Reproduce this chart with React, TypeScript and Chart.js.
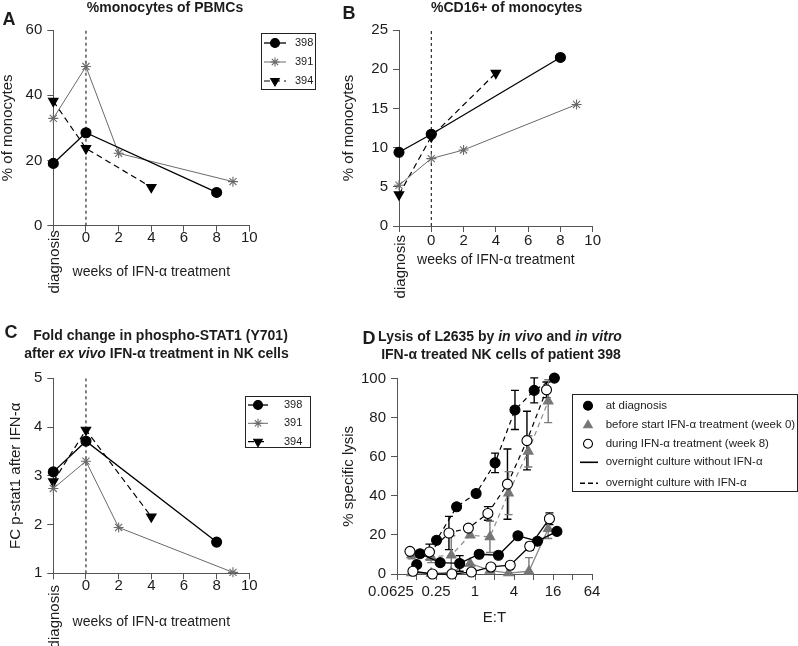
import React, { useEffect, useRef } from 'react';
import { Chart, registerables } from 'chart.js';

Chart.register(...registerables);

const FONT = '"Liberation Sans", Arial, Helvetica, sans-serif';
const INK = '#1c1c1c';
const AXIS = '#555555';

// ---------- shared: weeks of IFN-α treatment ----------
const weekTicks = [-2, 0, 2, 4, 6, 8, 10];
const diagnosisWeek = -2;
const diagnosisLabel = 'diagnosis';
const weeksTitle = 'weeks of IFN-α treatment';
const patients = ['398', '391', '394'];
const weeks398 = [-2, 0, 8];
const weeks391 = [-2, 0, 2, 9];
const weeks394 = [-2, 0, 4];

// ---------- panel A ----------
const titleA = '%monocytes of PBMCs';
const yTitleA = '% of monocytes';
const yTicksA = [0, 20, 40, 60];
const monoPbmc398 = [19.1, 28.5, 10.2];
const monoPbmc391 = [32.9, 48.8, 22.2, 13.5];
const monoPbmc394 = [38.2, 23.7, 11.8];

// ---------- panel B ----------
const titleB = '%CD16+ of monocytes';
const yTitleB = '% of monocytes';
const yTicksB = [0, 5, 10, 15, 20, 25];
const cd16Mono398 = [9.4, 11.7, 21.5];
const cd16Mono391 = [5.2, 8.6, 9.7, 15.5];
const cd16Mono394 = [4.0, 11.4, 19.5];

// ---------- panel C ----------
const titleC1 = 'Fold change in phospho-STAT1 (Y701)';
const titleC2 = ['after ', 'ex vivo', ' IFN-α treatment in NK cells'];
const yTitleC = 'FC p-stat1 after IFN-α';
const yTicksC = [1, 2, 3, 4, 5];
const pstat398 = [3.08, 3.71, 1.64];
const pstat391 = [2.74, 3.3, 1.94, 1.02];
const pstat394 = [2.88, 3.94, 2.16];

// ---------- panel D ----------
const titleD1 = ['Lysis of L2635 by ', 'in vivo', ' and ', 'in vitro'];
const titleD2 = 'IFN-α treated NK cells of patient 398';
const yTitleD = '% specific lysis';
const xTitleD = 'E:T';
const yTicksD = [0, 20, 40, 60, 80, 100];
const etTicks = [0.0625, 0.125, 0.25, 0.5, 1, 2, 4, 8, 16, 32, 64];
const etTickLabels = ['0.0625', '', '0.25', '', '1', '', '4', '', '16', '', '64'];
const legendD = [
  'at diagnosis',
  'before start IFN-α treatment (week 0)',
  'during IFN-α treatment (week 8)',
  'overnight culture without IFN-α',
  'overnight culture with IFN-α',
];

const etDiagNoIfn = [0.142, 0.29, 0.58, 1.16, 2.3, 4.6, 9.2, 18.4];
const lysisDiagNoIfn = [10.4, 5.8, 5.4, 10.1, 9.6, 19.6, 16.8, 21.8];
const errDiagNoIfn = [0, 0, 4, 0, 0, 0, 0, 0];

const etDiagIfn = [0.126, 0.255, 0.52, 1.04, 2.04, 4.14, 8.2, 16.8];
const lysisDiagIfn = [4.8, 17.3, 34.4, 41.2, 56.9, 84, 94, 100.3];
const errDiagIfn = [0, 0, 0, 0, 5, 10, 6.4, 0];

const etWk0NoIfn = [0.105, 0.21, 0.43, 0.84, 1.7, 3.3, 6.8, 13.5];
const lysisWk0NoIfn = [0.5, 0.3, 0.8, 5.4, 1.8, 0.5, 1.4, 23.2];
const errWk0NoIfn = [0, 0, 0, 0, 0, 0, 7, 5];

const etWk0Ifn = [0.105, 0.21, 0.43, 0.84, 1.7, 3.3, 6.65, 13.5];
const lysisWk0Ifn = [9.8, 8.8, 9.6, 19.9, 19.0, 41.4, 62.8, 88.5];
const errWk0Ifn = [2, 3, 10, 0, 8, 11, 8, 11];

const etWk8NoIfn = [0.11, 0.22, 0.44, 0.88, 1.76, 3.5, 7.0, 14.1];
const lysisWk8NoIfn = [1.4, 0, 0, 1, 3.6, 4.5, 14.2, 28.3];
const errWk8NoIfn = [0, 0, 0, 0, 0, 0, 2, 3];

const etWk8Ifn = [0.099, 0.198, 0.396, 0.79, 1.58, 3.17, 6.34, 12.7];
const lysisWk8Ifn = [11.6, 11.3, 21, 23.5, 31, 46, 68.3, 94.3];
const errWk8Ifn = [0, 4, 8.5, 0, 3.5, 18, 15, 4];

// ---------- styles ----------
const patientStyle: Record<string, any> = {
  '398': { color: '#000000', fill: '#000000', point: 'circle', radius: 5, rot: 0, dash: [], width: 1.3 },
  '391': { color: '#6a6a6a', fill: '#6a6a6a', point: 'star', radius: 5, rot: 0, dash: [], width: 1 },
  '394': { color: '#000000', fill: '#000000', point: 'triangle', radius: 5.5, rot: 180, dash: [6, 4], width: 1.2 },
};

const groupStyle: Record<string, any> = {
  diag: { point: 'circle', radius: 5, fill: '#000000', stroke: '#000000', line: '#000000', err: '#000000' },
  wk0: { point: 'triangle', radius: 5.5, fill: '#767676', stroke: '#767676', line: '#8a8a8a', err: '#7a7a7a' },
  wk8: { point: 'circle', radius: 5, fill: '#ffffff', stroke: '#000000', line: '#000000', err: '#000000' },
};

type Seg = { t: string; b?: boolean; i?: boolean };
type TextItem = { x: number; y: number; segs: Seg[]; size: number; align?: string };

function drawRich(ctx: CanvasRenderingContext2D, segs: Seg[], x: number, y: number, size: number, align = 'center') {
  const fonts = segs.map((s) => `${s.i ? 'italic ' : ''}${s.b ? 'bold ' : ''}${size}px ${FONT}`);
  const widths = segs.map((s, k) => {
    ctx.font = fonts[k];
    return ctx.measureText(s.t).width;
  });
  const total = widths.reduce((a, b) => a + b, 0);
  let cx = align === 'center' ? x - total / 2 : align === 'right' ? x - total : x;
  ctx.textAlign = 'left';
  ctx.textBaseline = 'middle';
  segs.forEach((s, k) => {
    ctx.font = fonts[k];
    ctx.fillText(s.t, cx, y);
    cx += widths[k];
  });
}

function drawMarker(ctx: CanvasRenderingContext2D, style: string, x: number, y: number, r: number, fill: string, stroke: string, lw: number, rotDeg: number) {
  ctx.save();
  ctx.translate(x, y);
  ctx.rotate((rotDeg * Math.PI) / 180);
  ctx.beginPath();
  if (style === 'circle') {
    ctx.arc(0, 0, r, 0, Math.PI * 2);
  } else if (style === 'triangle') {
    for (let k = 0; k < 3; k++) {
      const a = (k * 2 * Math.PI) / 3;
      const px = Math.sin(a) * r;
      const py = -Math.cos(a) * r;
      if (k === 0) ctx.moveTo(px, py);
      else ctx.lineTo(px, py);
    }
    ctx.closePath();
  } else {
    for (let k = 0; k < 4; k++) {
      const a = (k * Math.PI) / 4;
      ctx.moveTo(Math.cos(a) * r, Math.sin(a) * r);
      ctx.lineTo(-Math.cos(a) * r, -Math.sin(a) * r);
    }
  }
  if (style !== 'star') {
    ctx.fillStyle = fill;
    ctx.fill();
  }
  ctx.strokeStyle = stroke;
  ctx.lineWidth = lw;
  ctx.stroke();
  ctx.restore();
}

type LegendEntry = { y: number; label: string; line?: { color: string; width: number; dash: number[] }; marker?: { style: string; r: number; fill: string; stroke: string; rot: number } };
type LegendCfg = { box: number[]; lineX: number[]; markerX: number; textX: number; size: number; entries: LegendEntry[] };

function annotPlugin(cfg: { texts: TextItem[]; diagTop?: number; legend?: LegendCfg; firstEtLabel?: { dx: number; dy: number } }) {
  return {
    id: 'annot',
    afterDraw(chart: any) {
      const ctx: CanvasRenderingContext2D = chart.ctx;
      ctx.save();
      ctx.fillStyle = INK;
      for (const t of cfg.texts) drawRich(ctx, t.segs, t.x, t.y, t.size, t.align || 'center');
      if (cfg.diagTop !== undefined) {
        const px = chart.scales.x.getPixelForValue(diagnosisWeek) + 2;
        const py = chart.chartArea.bottom + cfg.diagTop;
        ctx.save();
        ctx.translate(px, py);
        ctx.rotate(-Math.PI / 2);
        drawRich(ctx, [{ t: diagnosisLabel }], 0, 0, 15, 'right');
        ctx.restore();
      }
      if (cfg.firstEtLabel) {
        // first E:T tick label, nudged left so it does not run into "0.25"
        const px = chart.scales.x.getPixelForValue(etTicks[0]) + cfg.firstEtLabel.dx;
        const py = chart.chartArea.bottom + cfg.firstEtLabel.dy;
        drawRich(ctx, [{ t: etTickLabels[0] }], px, py, 15, 'center');
      }
      const lg = cfg.legend;
      if (lg) {
        ctx.strokeStyle = '#222';
        ctx.lineWidth = 1;
        ctx.setLineDash([]);
        ctx.strokeRect(lg.box[0], lg.box[1], lg.box[2], lg.box[3]);
        for (const e of lg.entries) {
          if (e.line) {
            ctx.save();
            ctx.strokeStyle = e.line.color;
            ctx.lineWidth = e.line.width;
            ctx.setLineDash(e.line.dash);
            ctx.beginPath();
            ctx.moveTo(lg.lineX[0], e.y);
            ctx.lineTo(lg.lineX[1], e.y);
            ctx.stroke();
            ctx.restore();
          }
          if (e.marker) {
            drawMarker(ctx, e.marker.style, lg.markerX, e.y, e.marker.r, e.marker.fill, e.marker.stroke, 1.1, e.marker.rot);
          }
          ctx.fillStyle = INK;
          drawRich(ctx, [{ t: e.label }], lg.textX, e.y, lg.size, 'left');
        }
      }
      ctx.restore();
    },
  };
}

const errorBarPlugin = {
  id: 'errorBars',
  beforeDatasetsDraw(chart: any) {
    const ctx: CanvasRenderingContext2D = chart.ctx;
    const xs = chart.scales.x;
    const ys = chart.scales.y;
    chart.data.datasets.forEach((ds: any) => {
      if (!ds.errorBars) return;
      ctx.save();
      ctx.strokeStyle = ds.errorBarColor;
      ctx.lineWidth = 1.4;
      ds.data.forEach((p: any, k: number) => {
        const e = ds.errorBars[k];
        if (!e) return;
        const x = xs.getPixelForValue(p.x);
        const y1 = ys.getPixelForValue(p.y + e);
        const y2 = ys.getPixelForValue(Math.max(0, p.y - e));
        ctx.beginPath();
        ctx.moveTo(x, y1);
        ctx.lineTo(x, y2);
        ctx.moveTo(x - 4, y1);
        ctx.lineTo(x + 4, y1);
        ctx.moveTo(x - 4, y2);
        ctx.lineTo(x + 4, y2);
        ctx.stroke();
      });
      ctx.restore();
    });
  },
};

const axisCommon = () => ({
  grid: { display: true, drawOnChartArea: false, drawTicks: true, tickLength: 6, color: AXIS, lineWidth: 1 },
  border: { display: true, color: AXIS, width: 1 },
});

function weeksX(height: number, tickPad: number) {
  return {
    type: 'linear',
    min: -2,
    max: 10,
    afterBuildTicks: (s: any) => {
      s.ticks = weekTicks.map((v) => ({ value: v }));
    },
    afterFit: (s: any) => {
      s.height = height;
    },
    ticks: {
      autoSkip: false,
      maxRotation: 0,
      padding: tickPad,
      color: INK,
      font: { family: FONT, size: 15, lineHeight: 1 },
      callback: (v: any) => (v === diagnosisWeek ? '' : String(v)),
    },
    title: { display: true, text: weeksTitle, color: INK, font: { family: FONT, size: 14, lineHeight: 1.2 }, padding: { top: 0, bottom: 4 } },
    ...axisCommon(),
  };
}

function valueY(ticksArr: number[], width: number, title: string, titlePad: number) {
  return {
    type: 'linear',
    min: ticksArr[0],
    max: ticksArr[ticksArr.length - 1],
    afterBuildTicks: (s: any) => {
      s.ticks = ticksArr.map((v) => ({ value: v }));
    },
    afterFit: (s: any) => {
      s.width = width;
    },
    ticks: { padding: 5, color: INK, font: { family: FONT, size: 15 }, callback: (v: any) => String(v) },
    title: { display: true, text: title, color: INK, font: { family: FONT, size: 15, lineHeight: 1 }, padding: { top: titlePad, bottom: 0 } },
    ...axisCommon(),
  };
}

function patientDatasets(ys: number[][], yMin: number, yMax: number) {
  const xs = [weeks398, weeks391, weeks394];
  const sets: any[] = patients.map((p, i) => {
    const s = patientStyle[p];
    return {
      label: p,
      data: xs[i].map((x, j) => ({ x, y: ys[i][j] })),
      showLine: true,
      borderColor: s.color,
      backgroundColor: s.fill,
      borderWidth: s.width,
      borderDash: s.dash,
      pointStyle: s.point,
      pointRadius: s.radius,
      pointRotation: s.rot,
      pointBorderColor: s.color,
      pointBackgroundColor: s.fill,
      pointBorderWidth: 1.1,
      clip: false,
    };
  });
  sets.push({
    label: 'week 0',
    data: [
      { x: 0, y: yMin },
      { x: 0, y: yMax },
    ],
    showLine: true,
    borderColor: '#000',
    borderWidth: 1,
    borderDash: [3, 3],
    pointRadius: 0,
  });
  return sets;
}

function patientLegend(box: number[], lineX: number[], markerX: number, textX: number, ys: number[]): LegendCfg {
  return {
    box,
    lineX,
    markerX,
    textX,
    size: 11,
    entries: patients.map((p, i) => {
      const s = patientStyle[p];
      return {
        y: ys[i],
        label: p,
        line: { color: s.color, width: s.width, dash: s.dash },
        marker: { style: s.point, r: s.radius - 0.5, fill: s.fill, stroke: s.color, rot: s.rot },
      };
    }),
  };
}

function baseOptions(padding: any, scales: any) {
  return {
    responsive: false,
    animation: false,
    events: [],
    layout: { padding },
    plugins: { legend: { display: false }, tooltip: { enabled: false }, title: { display: false } },
    scales,
  };
}

function configA(): any {
  return {
    type: 'scatter',
    data: { datasets: patientDatasets([monoPbmc398, monoPbmc391, monoPbmc394], 0, 60) },
    options: baseOptions({ left: 0, right: 90.7, top: 30, bottom: 35.6 }, { x: weeksX(58.7, -1), y: valueY(yTicksA, 53.3, yTitleA, 0) }),
    plugins: [
      annotPlugin({
        texts: [
          { x: 9, y: 20, segs: [{ t: 'A', b: true }], size: 18 },
          { x: 165, y: 8, segs: [{ t: titleA, b: true }], size: 14 },
        ],
        diagTop: 4.5,
        legend: patientLegend([261.5, 33.5, 54, 56], [264, 286], 275, 295, [43, 62, 81]),
      }),
    ],
  };
}

function configB(): any {
  return {
    type: 'scatter',
    data: { datasets: patientDatasets([cd16Mono398, cd16Mono391, cd16Mono394], 0, 25) },
    options: baseOptions({ left: 0, right: 205.3, top: 30, bottom: 47.6 }, { x: weeksX(46.4, 1.5), y: valueY(yTicksB, 59, yTitleB, 1.5) }),
    plugins: [
      annotPlugin({
        texts: [
          { x: 9, y: 14, segs: [{ t: 'B', b: true }], size: 18 },
          { x: 166.7, y: 8, segs: [{ t: titleB, b: true }], size: 14 },
        ],
        diagTop: 9,
      }),
    ],
  };
}

function configC(): any {
  return {
    type: 'scatter',
    data: { datasets: patientDatasets([pstat398, pstat391, pstat394], 1, 5) },
    options: baseOptions({ left: 0, right: 90.7, top: 58.3, bottom: 11.9 }, { x: weeksX(60.8, -1), y: valueY(yTicksC, 53.3, yTitleC, 8.5) }),
    plugins: [
      annotPlugin({
        texts: [
          { x: 11, y: 13, segs: [{ t: 'C', b: true }], size: 18 },
          { x: 160.5, y: 16, segs: [{ t: titleC1, b: true }], size: 14 },
          { x: 156.5, y: 34, segs: [{ t: titleC2[0], b: true }, { t: titleC2[1], b: true, i: true }, { t: titleC2[2], b: true }], size: 14 },
        ],
        diagTop: 11.7,
        legend: patientLegend([245.5, 76.5, 65, 51], [248, 268], 258, 284, [85, 103.3, 121.7]),
      }),
    ],
  };
}

function lysisDataset(et: number[], lysis: number[], err: number[], group: string, ifn: boolean) {
  const g = groupStyle[group];
  return {
    label: group + (ifn ? ' +IFN' : ' -IFN'),
    data: et.map((x, j) => ({ x, y: lysis[j] })),
    showLine: true,
    borderColor: g.line,
    borderWidth: ifn ? 1.2 : 1.3,
    borderDash: ifn ? [5, 4] : [],
    pointStyle: g.point,
    pointRadius: g.radius,
    pointBackgroundColor: g.fill,
    pointBorderColor: g.stroke,
    pointBorderWidth: 1.1,
    errorBars: err,
    errorBarColor: g.err,
    clip: false,
  };
}

function configD(): any {
  const datasets = [
    lysisDataset(etWk8Ifn, lysisWk8Ifn, errWk8Ifn, 'wk8', true),
    lysisDataset(etWk8NoIfn, lysisWk8NoIfn, errWk8NoIfn, 'wk8', false),
    lysisDataset(etDiagIfn, lysisDiagIfn, errDiagIfn, 'diag', true),
    lysisDataset(etDiagNoIfn, lysisDiagNoIfn, errDiagNoIfn, 'diag', false),
    lysisDataset(etWk0Ifn, lysisWk0Ifn, errWk0Ifn, 'wk0', true),
    lysisDataset(etWk0NoIfn, lysisWk0NoIfn, errWk0NoIfn, 'wk0', false),
  ];
  const x = {
    type: 'logarithmic',
    min: etTicks[0],
    max: etTicks[etTicks.length - 1],
    afterBuildTicks: (s: any) => {
      s.ticks = etTicks.map((v) => ({ value: v }));
    },
    afterFit: (s: any) => {
      s.height = 56.4;
    },
    ticks: {
      autoSkip: false,
      maxRotation: 0,
      padding: 4,
      color: INK,
      font: { family: FONT, size: 15, lineHeight: 1 },
      callback: (_v: any, i: number) => (i === 0 ? '' : etTickLabels[i]),
    },
    title: { display: true, text: xTitleD, color: INK, font: { family: FONT, size: 15, lineHeight: 1.2 }, padding: { top: 0, bottom: 4 } },
    ...axisCommon(),
  };
  const dg = groupStyle;
  return {
    type: 'scatter',
    data: { datasets },
    options: baseOptions({ left: 0, right: 206, top: 58.7, bottom: 15.6 }, { x, y: valueY(yTicksD, 57, yTitleD, 1.5) }),
    plugins: [
      errorBarPlugin,
      annotPlugin({
        texts: [
          { x: 29, y: 19, segs: [{ t: 'D', b: true }], size: 18 },
          {
            x: 160,
            y: 17,
            segs: [{ t: titleD1[0], b: true }, { t: titleD1[1], b: true, i: true }, { t: titleD1[2], b: true }, { t: titleD1[3], b: true, i: true }],
            size: 14,
          },
          { x: 161, y: 35, segs: [{ t: titleD2, b: true }], size: 14 },
        ],
        firstEtLabel: { dx: -6, dy: 17.5 },
        legend: {
          box: [232.5, 74.5, 225, 97],
          lineX: [240, 258],
          markerX: 248,
          textX: 265.7,
          size: 11.5,
          entries: [
            { y: 85.7, label: legendD[0], marker: { style: dg.diag.point, r: 4.5, fill: dg.diag.fill, stroke: dg.diag.stroke, rot: 0 } },
            { y: 105.3, label: legendD[1], marker: { style: dg.wk0.point, r: 5, fill: dg.wk0.fill, stroke: dg.wk0.stroke, rot: 0 } },
            { y: 123.7, label: legendD[2], marker: { style: dg.wk8.point, r: 4.5, fill: dg.wk8.fill, stroke: dg.wk8.stroke, rot: 0 } },
            { y: 142.3, label: legendD[3], line: { color: '#000', width: 1.6, dash: [] } },
            { y: 163.3, label: legendD[4], line: { color: '#000', width: 1.6, dash: [5, 3] } },
          ],
        },
      }),
    ],
  };
}

const panels = [
  { left: 0, top: 0, width: 340, height: 320, make: configA },
  { left: 340, top: 0, width: 458, height: 320, make: configB },
  { left: 0, top: 320, width: 340, height: 326, make: configC },
  { left: 340, top: 320, width: 458, height: 326, make: configD },
];

export default function App() {
  const refs = useRef<(HTMLCanvasElement | null)[]>([]);
  useEffect(() => {
    const charts = panels.map((p, i) => new Chart(refs.current[i] as HTMLCanvasElement, p.make()));
    return () => charts.forEach((c) => c.destroy());
  }, []);
  return (
    <div style={{ position: 'absolute', left: 0, top: 0, width: 798, height: 646, background: '#ffffff', overflow: 'hidden' }}>
      {panels.map((p, i) => (
        <canvas
          key={i}
          ref={(el) => {
            refs.current[i] = el;
          }}
          width={p.width}
          height={p.height}
          style={{ position: 'absolute', left: p.left, top: p.top, width: p.width, height: p.height }}
        />
      ))}
    </div>
  );
}
